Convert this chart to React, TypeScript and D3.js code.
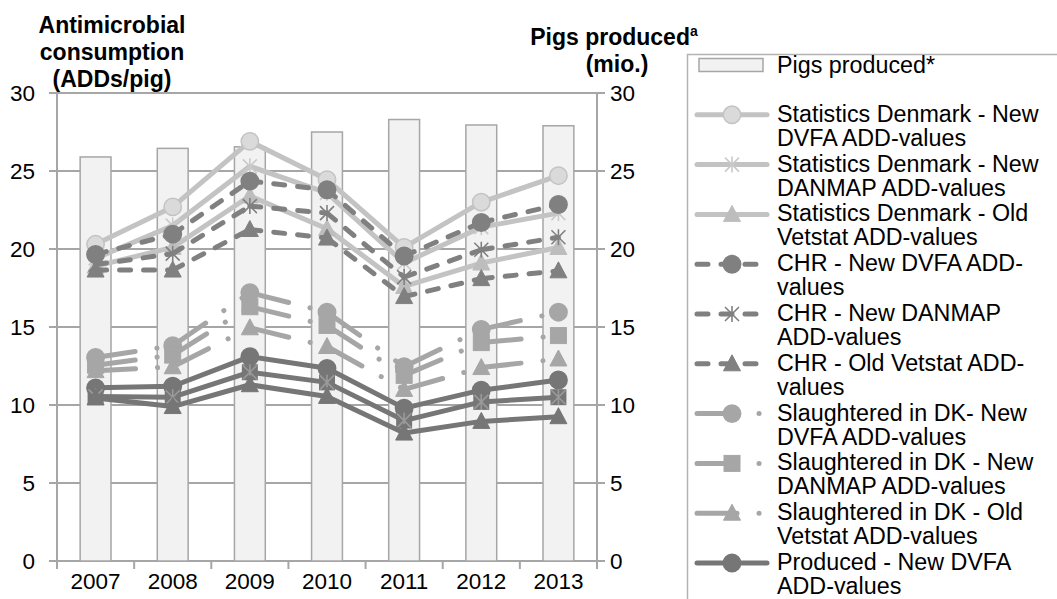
import React from "react";
import * as d3 from "d3";

const years = ["2007", "2008", "2009", "2010", "2011", "2012", "2013"];
const yTicks = [0, 5, 10, 15, 20, 25, 30];

const pigsProduced = [25.9, 26.45, 26.55, 27.5, 28.3, 27.95, 27.9];
const sdNewDvfa = [20.3, 22.7, 26.9, 24.45, 20.1, 23.0, 24.7];
const sdNewDanmap = [19.4, 21.5, 25.3, 23.6, 19.1, 21.4, 22.3];
const sdOldVetstat = [18.9, 20.1, 23.4, 21.3, 17.6, 19.1, 20.1];
const chrNewDvfa = [19.65, 20.95, 24.35, 23.8, 19.55, 21.7, 22.85];
const chrNewDanmap = [19.0, 19.7, 22.75, 22.3, 18.2, 19.95, 20.75];
const chrOldVetstat = [18.65, 18.65, 21.25, 20.7, 16.95, 18.1, 18.6];
const sdkNewDvfa = [13.05, 13.8, 17.2, 15.95, 12.45, 14.85, 15.95];
const sdkNewDanmap = [12.55, 13.2, 16.3, 15.1, 11.9, 14.0, 14.45];
const sdkOldVetstat = [12.2, 12.45, 14.95, 13.75, 11.0, 12.4, 12.95];
const prodNewDvfa = [11.1, 11.2, 13.1, 12.35, 9.8, 10.95, 11.6];
const prodNewDanmap = [10.55, 10.5, 12.1, 11.45, 9.0, 10.2, 10.5];
const prodOldVetstat = [10.45, 9.9, 11.3, 10.55, 8.2, 8.95, 9.25];

const W = 1057;
const H = 599;
const FONT = "'Liberation Sans', Arial, sans-serif";

type Marker = "circle" | "star" | "triangle" | "square" | "starBox";

interface Series {
  label: string[];
  values: number[];
  color: string;
  fill: string;
  stroke: string;
  marker: Marker;
  dash: string | null;
}

const SD = "#c3c3c3";
const CHR = "#808080";
const SDK = "#a6a6a6";
const PROD = "#767676";
const LONG_DASH_DOT = "40 22 0.1 22";
const DASH = "11 13";

const series: Series[] = [
  { label: ["Statistics Denmark - New", "DVFA ADD-values"], values: sdNewDvfa, color: SD, fill: "#dadada", stroke: SD, marker: "circle", dash: null },
  { label: ["Statistics Denmark - New", "DANMAP ADD-values"], values: sdNewDanmap, color: SD, fill: "none", stroke: "#cacaca", marker: "star", dash: null },
  { label: ["Statistics Denmark - Old", "Vetstat ADD-values"], values: sdOldVetstat, color: SD, fill: "#bdbdbd", stroke: "#bdbdbd", marker: "triangle", dash: null },
  { label: ["CHR - New DVFA ADD-", "values"], values: chrNewDvfa, color: CHR, fill: CHR, stroke: CHR, marker: "circle", dash: DASH },
  { label: ["CHR - New DANMAP", "ADD-values"], values: chrNewDanmap, color: CHR, fill: "none", stroke: CHR, marker: "star", dash: DASH },
  { label: ["CHR - Old Vetstat ADD-", "values"], values: chrOldVetstat, color: CHR, fill: CHR, stroke: CHR, marker: "triangle", dash: DASH },
  { label: ["Slaughtered in DK- New", "DVFA ADD-values"], values: sdkNewDvfa, color: SDK, fill: SDK, stroke: SDK, marker: "circle", dash: LONG_DASH_DOT },
  { label: ["Slaughtered in DK - New", "DANMAP ADD-values"], values: sdkNewDanmap, color: SDK, fill: SDK, stroke: SDK, marker: "square", dash: LONG_DASH_DOT },
  { label: ["Slaughtered in DK - Old", "Vetstat ADD-values"], values: sdkOldVetstat, color: SDK, fill: SDK, stroke: SDK, marker: "triangle", dash: LONG_DASH_DOT },
  { label: ["Produced - New DVFA", "ADD-values"], values: prodNewDvfa, color: PROD, fill: PROD, stroke: PROD, marker: "circle", dash: null },
  { label: ["Produced - New DANMAP", "ADD-values"], values: prodNewDanmap, color: PROD, fill: PROD, stroke: "#9a9a9a", marker: "starBox", dash: null },
  { label: ["Produced - Old Vetstat", "ADD-values"], values: prodOldVetstat, color: PROD, fill: PROD, stroke: PROD, marker: "triangle", dash: null },
];

// the legend box runs off the bottom of the picture: only the first entries fit
const LEGEND_VISIBLE = 10;

function drawMarker(type: Marker, cx: number, cy: number, fill: string, stroke: string, key?: string) {
  const r = 8.7;
  if (type === "circle") {
    return <circle key={key} cx={cx} cy={cy} r={r} fill={fill} stroke={stroke} strokeWidth={1.5} />;
  }
  if (type === "triangle") {
    return (
      <path key={key} d={`M${cx},${cy - 9}L${cx + 8.5},${cy + 7}L${cx - 8.5},${cy + 7}Z`} fill={fill} stroke={stroke} strokeWidth={1} />
    );
  }
  if (type === "square") {
    return <rect key={key} x={cx - 8} y={cy - 8} width={16} height={16} fill={fill} stroke={stroke} strokeWidth={1} />;
  }
  const s = 7;
  return (
    <g key={key}>
      {type === "starBox" && <rect x={cx - 8} y={cy - 8} width={16} height={16} fill={fill} />}
      <path
        d={`M${cx - s},${cy - s}L${cx + s},${cy + s}M${cx - s},${cy + s}L${cx + s},${cy - s}M${cx},${cy - s - 1}L${cx},${cy + s + 1}`}
        stroke={stroke}
        strokeWidth={1.6}
        fill="none"
      />
    </g>
  );
}

export default function App() {
  const plotLeft = 57;
  const plotRight = 597;
  const plotTop = 93;
  const plotBottom = 561;

  const x = d3.scaleBand<string>().domain(years).range([plotLeft, plotRight]);
  const y = d3.scaleLinear().domain([0, 30]).range([plotBottom, plotTop]);
  const yRight = d3.scaleLinear().domain([0, 30]).range([plotBottom, plotTop]);
  const cx = (yr: string) => (x(yr) ?? 0) + x.bandwidth() / 2;
  const barW = x.bandwidth() * 0.4;
  const grid = "#a6a6a6";

  const legendX = 697;
  const legendTextX = 777;
  const legendY0 = 65;
  const legendStep = 49.8;

  return (
    <svg width={W} height={H} style={{ position: "absolute", left: 0, top: 0, fontFamily: FONT }}>
      <rect width={W} height={H} fill="#fff" />

      {/* gridlines */}
      {yTicks.map((t) => (
        <line key={"g" + t} x1={plotLeft - 8} x2={plotRight + 8} y1={y(t)} y2={y(t)} stroke={grid} strokeWidth={2} />
      ))}
      <line x1={plotLeft} x2={plotLeft} y1={plotTop} y2={plotBottom} stroke={grid} strokeWidth={2} />
      <line x1={plotRight} x2={plotRight} y1={plotTop} y2={plotBottom} stroke={grid} strokeWidth={2} />
      {years.concat([""]).map((yr, i) => {
        const xx = plotLeft + i * x.bandwidth();
        return <line key={"xt" + i} x1={xx} x2={xx} y1={plotBottom} y2={plotBottom + 8} stroke={grid} strokeWidth={2} />;
      })}

      {/* bars: pigs produced (right axis) */}
      {years.map((yr, i) => (
        <rect
          key={"b" + yr}
          x={cx(yr) - barW / 2}
          y={yRight(pigsProduced[i])}
          width={barW}
          height={plotBottom - yRight(pigsProduced[i])}
          fill="#f2f2f2"
          stroke="#a6a6a6"
          strokeWidth={1.5}
        />
      ))}

      {/* lines, drawn segment by segment so the dash pattern restarts like in Excel */}
      {series.map((s, si) => (
        <g key={"s" + si}>
          {years.slice(1).map((yr, i) => (
            <line
              key={"l" + i}
              x1={cx(years[i])}
              y1={y(s.values[i])}
              x2={cx(yr)}
              y2={y(s.values[i + 1])}
              stroke={s.color}
              strokeWidth={5}
              strokeLinecap="round"
              strokeDasharray={s.dash ?? undefined}
            />
          ))}
          {years.map((yr, i) => drawMarker(s.marker, cx(yr), y(s.values[i]), s.fill, s.stroke, "m" + i))}
        </g>
      ))}

      {/* axis labels */}
      <g fontSize={22.5} fill="#000">
        {yTicks.map((t) => (
          <text key={"yl" + t} x={35} y={y(t)} dy="0.35em" textAnchor="end">
            {t}
          </text>
        ))}
        {yTicks.map((t) => (
          <text key={"yr" + t} x={610} y={yRight(t)} dy="0.35em" textAnchor="start">
            {t}
          </text>
        ))}
        {years.map((yr) => (
          <text key={"x" + yr} x={cx(yr)} y={589} textAnchor="middle">
            {yr}
          </text>
        ))}
      </g>

      {/* axis titles */}
      <g fontSize={23} fontWeight="bold" textAnchor="middle" fill="#000">
        <text x={112} y={33}>Antimicrobial</text>
        <text x={112} y={60}>consumption</text>
        <text x={112} y={87}>(ADDs/pig)</text>
        <text x={614} y={45}>
          Pigs produced
          <tspan fontSize={14} dy={-9}>a</tspan>
        </text>
        <text x={617} y={72}>(mio.)</text>
      </g>

      {/* legend */}
      <rect x={687.5} y={54.5} width={400} height={600} fill="#fff" stroke="#b3b3b3" strokeWidth={1.5} />
      <g fontSize={23.3} fill="#000">
        <rect x={legendX + 2} y={legendY0 - 6.5} width={64} height={13} fill="#f2f2f2" stroke="#a6a6a6" strokeWidth={1.5} />
        <text x={legendTextX} y={legendY0 + 8}>Pigs produced*</text>
        {series.slice(0, LEGEND_VISIBLE).map((s, si) => {
          const ly = legendY0 + legendStep * (si + 1);
          return (
            <g key={"lg" + si}>
              <line
                x1={legendX}
                x2={legendX + 70}
                y1={ly}
                y2={ly}
                stroke={s.color}
                strokeWidth={5}
                strokeLinecap="round"
                strokeDasharray={s.dash ?? undefined}
              />
              {drawMarker(s.marker, legendX + 35, ly, s.fill, s.stroke)}
              <text x={legendTextX} y={ly + 7}>{s.label[0]}</text>
              <text x={legendTextX} y={ly + 31}>{s.label[1]}</text>
            </g>
          );
        })}
      </g>
    </svg>
  );
}
